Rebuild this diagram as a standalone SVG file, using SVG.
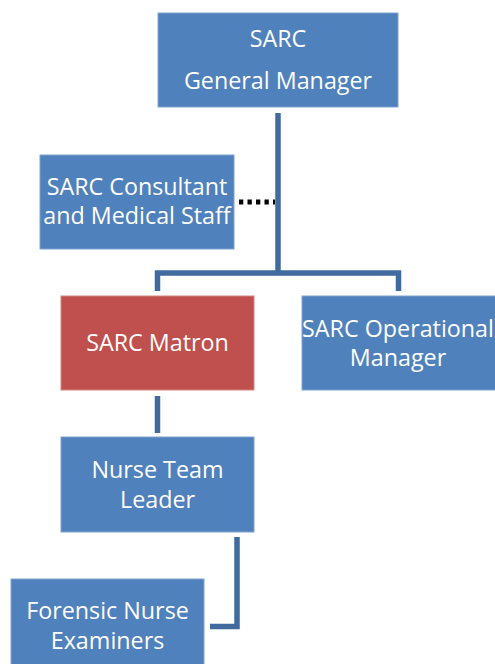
<svg xmlns="http://www.w3.org/2000/svg" width="495" height="664" viewBox="0 0 495 664">
<style>
.box{fill:#4F81BD;stroke:#7FA3D0;stroke-width:1}
.red{fill:#C0504D;stroke:#D58583;stroke-width:1}
.t{font-family:"Open Sans","Liberation Sans",sans-serif;font-size:23.3px;fill:#FFFFFF;text-anchor:middle}
.ln{fill:none;stroke:#416B9F;stroke-width:5.5}
.dot{fill:none;stroke:#000000;stroke-width:5;stroke-dasharray:4.3 4.2}
</style>
<rect width="495" height="664" fill="#FFFFFF"/>
<g id="connectors">
<path class="ln" d="M278 113 V273"/>
<path class="ln" d="M157.5 291 V273 H398.5 V291"/>
<path class="dot" d="M239 202 H275"/>
<path class="ln" d="M157.5 396 V433"/>
<path class="ln" d="M237 537 V626.5 H210"/>
</g>
<g id="gm">
<rect class="box" x="158" y="13" width="240" height="94"/>
<text class="t" x="278" y="47">SARC</text>
<text class="t" x="278" y="89">General Manager</text>
</g>
<g id="consultant">
<rect class="box" x="40" y="155" width="194" height="94"/>
<text class="t" x="137" y="195">SARC Consultant</text>
<text class="t" x="137" y="224">and Medical Staff</text>
</g>
<g id="matron">
<rect class="red" x="61" y="296" width="193" height="94"/>
<text class="t" x="157.5" y="351">SARC Matron</text>
</g>
<g id="ops">
<rect class="box" x="302" y="296" width="196" height="94"/>
<text class="t" x="398" y="337">SARC Operational</text>
<text class="t" x="398" y="366">Manager</text>
</g>
<g id="ntl">
<rect class="box" x="61" y="437" width="193" height="95"/>
<text class="t" x="157.5" y="478">Nurse Team</text>
<text class="t" x="157.5" y="508">Leader</text>
</g>
<g id="fne">
<rect class="box" x="11" y="579" width="193" height="90"/>
<text class="t" x="107.5" y="619">Forensic Nurse</text>
<text class="t" x="107.5" y="649">Examiners</text>
</g>
</svg>
